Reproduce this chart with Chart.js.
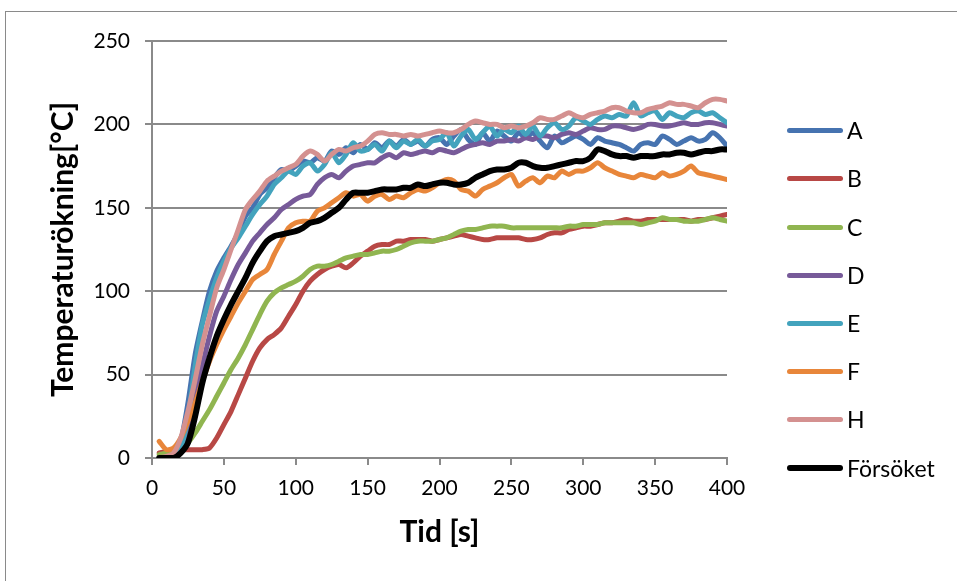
<!DOCTYPE html>
<html>
<head>
<meta charset="utf-8">
<script src="https://cdn.jsdelivr.net/npm/chart.js@4/dist/chart.umd.min.js"></script>
<style>
  html, body { margin: 0; padding: 0; background: #fff; overflow: hidden; }
  #wrap { position: relative; width: 957px; height: 581px; }
  #ram { position: absolute; left: 5px; top: 11px; width: 1200px; height: 900px; border: 1.5px solid #8a8a8a; box-sizing: border-box; }
  #chart { position: absolute; left: 0; top: 0; }
  #legend { position: absolute; left: 0; top: 0; font-family: Lato, "Open Sans", sans-serif; font-size: 23px; color: #000; }
  .item { position: absolute; left: 787px; height: 30px; display: flex; align-items: center; transform: translateY(-50%); }
  .item span.line { display: inline-block; width: 56px; height: 4px; border-radius: 3px; margin-right: 4px; }
</style>
</head>
<body>
<div id="wrap">
  <div id="ram"></div>
  <canvas id="chart" width="957" height="581"></canvas>
  <div id="legend"></div>
</div>
<script>
const tid = [5,10,15,20,25,30,35,40,45,50,55,60,65,70,75,80,85,90,95,100,
  105,110,115,120,125,130,135,140,145,150,155,160,165,170,175,180,185,190,195,200,
  205,210,215,220,225,230,235,240,245,250,255,260,265,270,275,280,285,290,295,300,
  305,310,315,320,325,330,335,340,345,350,355,360,365,370,375,380,385,390,395,400];

const serieA = [0,0,1,10,33,62,82,100,112,120,127,135,145,150,158,162,168,173,172,175,
  178,177,180,178,184,182,186,183,188,185,189,186,190,187,191,188,190,187,191,192,
  188,193,197,191,188,195,190,196,193,190,195,192,195,190,186,193,189,191,193,191,
  188,192,190,189,188,186,184,188,189,188,193,191,188,190,192,190,191,195,192,187];

const serieB = [3,4,5,5,5,5,5,6,12,20,28,38,48,58,66,71,74,78,85,92,
  100,106,110,113,115,116,114,117,121,124,127,128,128,130,130,131,131,131,130,131,
  132,133,134,133,132,131,131,132,132,132,132,131,131,132,134,135,135,137,138,139,
  139,140,141,141,142,143,142,142,143,143,143,143,143,143,142,143,143,144,145,146];

const serieC = [2,3,3,5,9,15,22,29,37,45,53,60,68,77,86,94,99,102,104,106,
  109,113,115,115,116,118,120,121,122,122,123,124,124,125,127,129,130,130,130,131,
  132,134,136,137,137,138,139,139,139,138,138,138,138,138,138,138,138,139,139,140,
  140,140,141,141,141,141,141,140,141,142,144,143,143,142,142,142,143,144,143,142];

const serieD = [0,0,2,6,15,35,55,73,88,97,107,116,123,130,135,140,144,149,152,155,
  157,158,164,168,170,168,172,175,176,177,177,180,182,180,183,182,183,184,183,185,
  184,183,185,187,188,189,188,190,190,191,190,192,191,193,193,192,194,195,194,196,
  198,197,197,199,199,198,197,198,200,200,199,199,200,201,200,200,201,201,200,199];

const serieE = [0,0,0,5,25,55,80,95,108,118,126,132,139,146,152,157,164,168,172,170,
  175,177,172,176,183,177,182,189,184,185,188,184,190,186,190,188,191,187,190,191,
  195,187,193,197,191,195,199,193,197,195,199,194,199,193,198,201,197,199,204,202,
  200,203,205,204,206,205,213,205,207,208,203,207,205,204,207,208,206,207,204,201];

const serieF = [10,5,6,12,22,33,46,58,68,77,85,93,100,107,110,113,122,130,138,141,
  142,142,148,150,153,156,159,157,158,154,157,158,155,157,156,159,161,160,162,165,
  167,166,161,160,157,161,163,165,168,170,163,166,168,165,169,168,172,170,172,172,
  174,177,174,172,170,169,168,170,169,168,171,169,170,172,175,171,170,169,168,167];

const serieH = [0,1,3,12,28,47,68,85,102,113,125,137,149,155,160,166,169,172,174,176,
  181,184,182,178,182,185,184,186,187,190,194,195,194,194,193,194,193,194,195,196,
  195,195,197,200,202,201,200,200,198,199,198,199,201,204,203,203,205,207,205,204,
  206,207,208,210,210,208,207,207,209,210,211,213,212,212,211,210,213,215,215,214];

const forsoket = [0,0,0,3,9,25,45,60,73,83,92,100,108,117,124,130,133,134,135,136,
  138,141,142,144,147,150,155,159,159,159,160,161,161,161,162,162,164,163,164,165,
  165,164,164,165,168,170,172,173,173,174,177,177,175,174,174,175,176,177,178,178,
  180,185,184,182,181,181,180,181,181,181,182,182,183,183,182,183,184,184,185,185];

const namn = ['A', 'B', 'C', 'D', 'E', 'F', 'H', 'Försöket'];
const varden = [serieA, serieB, serieC, serieD, serieE, serieF, serieH, forsoket];
const farger = ['#4673B0', '#B84845', '#90B550', '#775A99', '#43A3BD', '#E8863A', '#D49190', '#000000'];
const yTicks = [0, 50, 100, 150, 200, 250];
const xTicks = [0, 50, 100, 150, 200, 250, 300, 350, 400];

const grid = '#8a8a8a';

function byggDataset(i) {
  return {
    label: namn[i],
    data: varden[i].map((v, k) => ({ x: tid[k], y: v })),
    borderColor: farger[i],
    backgroundColor: farger[i],
    borderWidth: i === 7 ? 6 : 5,
    pointRadius: 0,
    tension: 0.25,
    borderCapStyle: 'round',
    borderJoinStyle: 'round',
    order: 7 - i
  };
}

new Chart(document.getElementById('chart').getContext('2d'), {
  type: 'line',
  data: { datasets: namn.map((n, i) => byggDataset(i)) },
  options: {
    responsive: false,
    animation: false,
    layout: { padding: { left: 0, top: 41, right: 230, bottom: 23 } },
    plugins: { legend: { display: false }, tooltip: { enabled: false } },
    scales: {
      x: {
        type: 'linear',
        min: 0, max: 400,
        afterFit: s => { s.height = 100; },
        afterBuildTicks: s => { s.ticks = xTicks.map(v => ({ value: v })); },
        grid: { drawOnChartArea: false, drawTicks: true, tickLength: 7, color: grid, lineWidth: 2 },
        border: { color: grid, width: 2 },
        ticks: { color: '#000', padding: 11, maxRotation: 0, font: { family: 'Lato', size: 21 } },
        title: { display: true, text: 'Tid [s]', color: '#000', padding: { top: 0, bottom: 8 },
          font: { family: 'Lato', size: 30, weight: 'bold' } }
      },
      y: {
        min: 0, max: 250,
        afterFit: s => { s.width = 152; },
        afterBuildTicks: s => { s.ticks = yTicks.map(v => ({ value: v })); },
        grid: { color: grid, lineWidth: 2, tickLength: 7 },
        border: { color: grid, width: 2 },
        ticks: { color: '#000', padding: 15, font: { family: 'Lato', size: 21 } },
        title: { display: true, text: 'Temperaturökning[°C]', color: '#000', padding: { top: 45, bottom: 0 },
          font: { family: 'Lato', size: 30, weight: 'bold' } }
      }
    }
  }
});

// legenden till höger
const leg = document.getElementById('legend');
const legY = [130, 178, 227, 275, 323, 371, 419, 468];
namn.forEach((n, i) => {
  const d = document.createElement('div');
  d.className = 'item';
  d.style.top = legY[i] + 'px';
  d.innerHTML = `<span class="line" style="background:${farger[i]};height:${i === 7 ? 6 : 5}px"></span>${n}`;
  leg.appendChild(d);
});
</script>
</body>
</html>
